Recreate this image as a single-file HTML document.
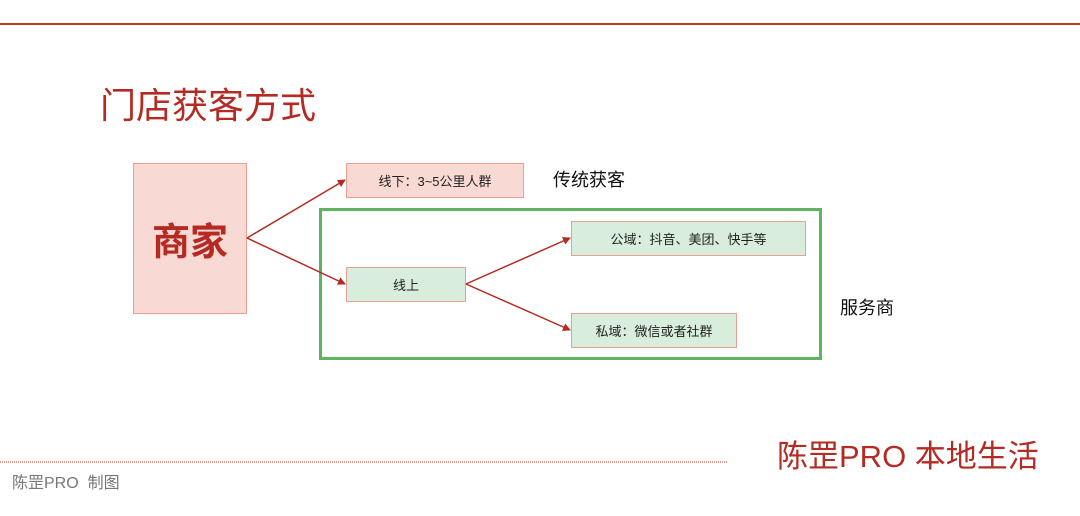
<!DOCTYPE html>
<html><head><meta charset="utf-8"><style>
html,body{margin:0;padding:0;background:#fff;}
body{width:1080px;height:516px;position:relative;overflow:hidden;font-family:"Liberation Sans","Noto Sans CJK SC",sans-serif;}
.a{position:absolute;}
.box{position:absolute;box-sizing:border-box;display:flex;align-items:center;justify-content:center;font-size:13px;color:#222;}
.pink{background:#f9d9d3;border:1px solid #e8a090;}
.green{background:#d8eddc;border:1px solid #e8a090;}
</style></head><body>
<div class="a" style="left:0;top:23px;width:1080px;height:2px;background:#c0392b;"></div>
<div class="a" style="left:100px;top:84px;font-size:36px;color:#b52a22;line-height:44px;">门店获客方式</div>

<div class="box pink" style="left:133px;top:163px;width:114px;height:151px;font-size:38px;font-weight:bold;color:#b52a22;">商家</div>
<div class="box pink" style="left:346px;top:163px;width:178px;height:35px;">线下：3~5公里人群</div>
<div class="a" style="left:553px;top:168px;font-size:18px;color:#111;line-height:24px;">传统获客</div>

<div class="a" style="left:319px;top:208px;width:503px;height:152px;box-sizing:border-box;border:3px solid #5cb460;"></div>
<div class="box green" style="left:346px;top:267px;width:120px;height:35px;">线上</div>
<div class="box green" style="left:571px;top:221px;width:235px;height:35px;">公域：抖音、美团、快手等</div>
<div class="box green" style="left:571px;top:313px;width:166px;height:35px;">私域：微信或者社群</div>
<div class="a" style="left:840px;top:296px;font-size:18px;color:#111;line-height:24px;">服务商</div>

<svg class="a" style="left:0;top:0" width="1080" height="516">
<defs><marker id="m" markerWidth="8" markerHeight="8" refX="7" refY="4" orient="auto" markerUnits="userSpaceOnUse"><path d="M0,0 L8,4 L0,8 z" fill="#b52a22"/></marker></defs>
<g stroke="#b52a22" stroke-width="1.5" fill="none" marker-end="url(#m)">
<line x1="247" y1="238" x2="345" y2="180"/>
<line x1="247" y1="238" x2="345" y2="284"/>
<line x1="466" y1="284" x2="570" y2="238"/>
<line x1="466" y1="284" x2="570" y2="330"/>
</g>
<line x1="0" y1="462" x2="727" y2="462" stroke="#c0392b" stroke-width="1" stroke-dasharray="1,1"/>
</svg>

<div class="a" style="left:12px;top:474px;font-size:16px;color:#777;line-height:20px;">陈罡PRO&nbsp; 制图</div>
<div class="a" style="left:777px;top:438px;font-size:31px;color:#b52a22;line-height:38px;">陈罡PRO 本地生活</div>
</body></html>
